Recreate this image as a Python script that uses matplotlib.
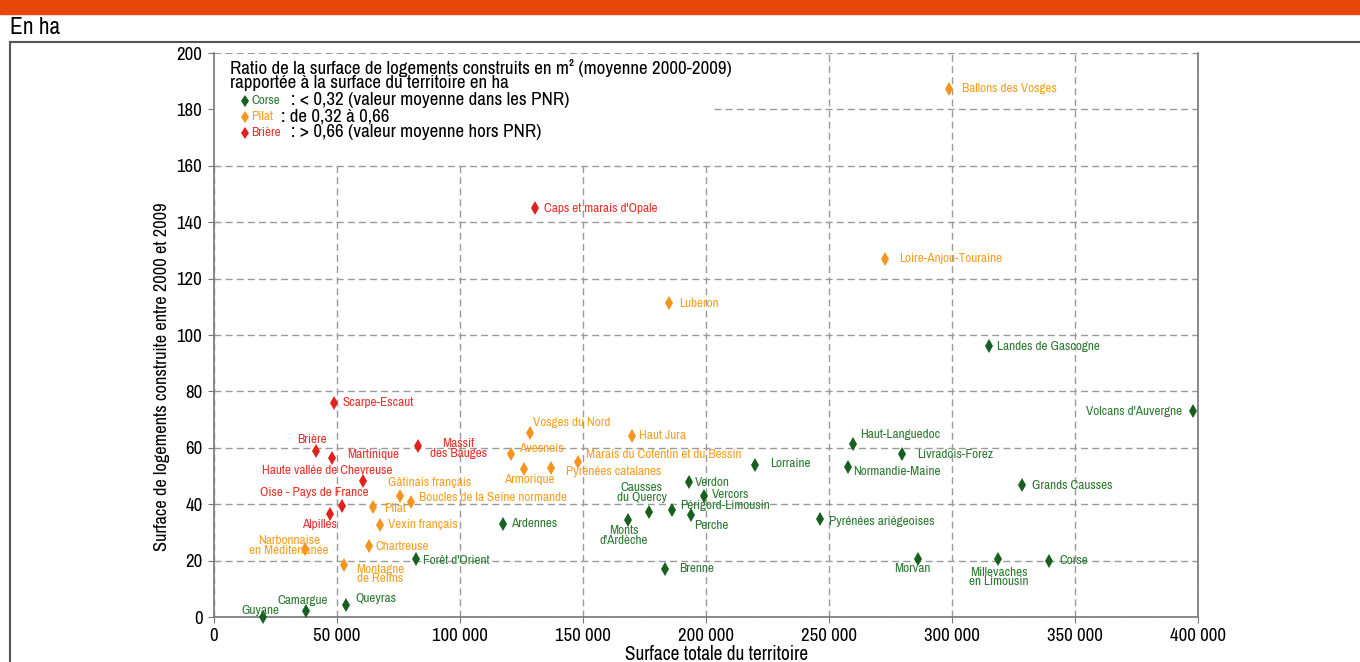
import matplotlib
matplotlib.use('Agg')
import matplotlib.pyplot as plt
from matplotlib import font_manager
from matplotlib.font_manager import FontProperties
from matplotlib.textpath import TextPath
from matplotlib.patches import Rectangle
from matplotlib.lines import Line2D
from matplotlib.ticker import FuncFormatter

# pick a narrow font if one is around, else the default
_fonts = font_manager.fontManager.ttflist
_narrow = [f for f in _fonts if 'Narrow' in f.name or 'Condensed' in f.name]
_stretched = [f for f in _fonts if str(f.stretch) in ('condensed', 'semi-condensed', '75', '87.5')]
if _narrow:
    FONT, STRETCH = _narrow[0].name, 'normal'
elif _stretched:
    FONT, STRETCH = _stretched[0].name, 'condensed'
else:
    FONT, STRETCH = 'DejaVu Sans', 'normal'
plt.rcParams['font.family'] = [FONT, 'DejaVu Sans']
plt.rcParams['font.stretch'] = STRETCH


def fit_size(sample, target_px, k=0.93):
    # font size (pt) so that sample is about target_px wide at 100 dpi
    # (k < 1 : the narrow font is taller than the reference one)
    fp = FontProperties(family=FONT, stretch=STRETCH)
    w = TextPath((0, 0), sample, size=10, prop=fp).get_extents().width
    return k * 10 * target_px / (w * 100 / 72)


# ----------------------------------------------------------------------------#
# data : surface totale (ha) / surface de logements construite 2000-2009 (ha)
red_names = ["Caps et marais d'Opale", "Scarpe-Escaut", "Brière", "Martinique",
             "Massif\ndes Bauges", "Haute vallée de Chevreuse",
             "Oise - Pays de France", "Alpilles"]
red_x = [130600, 49000, 41500, 48000, 83200, 60600, 52200, 47200]
red_y = [145.0, 75.9, 58.8, 56.5, 60.5, 48.1, 39.4, 36.6]

orange_names = ["Ballons des Vosges", "Loire-Anjou-Touraine", "Luberon",
                "Vosges du Nord", "Haut Jura", "Avesnois",
                "Marais du Cotentin et du Bessin", "Armorique",
                "Pyrénées catalanes", "Gâtinais français",
                "Boucles de la Seine normande", "Pilat", "Vexin français",
                "Narbonnaise\nen Méditerranée", "Chartreuse",
                "Montagne\nde Reims"]
orange_x = [298800, 272800, 185200, 128700, 170200, 120900, 148200, 126300,
            137200, 75800, 80100, 64900, 67500, 37300, 63300, 53000]
orange_y = [187.2, 127.1, 111.2, 65.4, 64.2, 57.9, 55.1, 52.6, 52.7, 43.0,
            40.7, 39.1, 32.7, 24.2, 25.1, 18.5]

green_names = ["Landes de Gascogne", "Volcans d'Auvergne", "Haut-Languedoc",
               "Livradois-Forez", "Normandie-Maine", "Lorraine",
               "Grands Causses", "Verdon", "Vercors", "Causses\ndu Quercy",
               "Périgord-Limousin", "Perche", "Monts\nd'Ardèche", "Ardennes",
               "Pyrénées ariégeoises", "Morvan", "Millevaches\nen Limousin",
               "Corse", "Brenne", "Forêt d'Orient", "Queyras", "Camargue",
               "Guyane"]
green_x = [315200, 398100, 259800, 279700, 257800, 219900, 328400, 193200,
           199300, 176900, 186400, 194100, 168300, 117600, 246500, 286400,
           318700, 339500, 183600, 82200, 53800, 37500, 20100]
green_y = [96.1, 72.9, 61.3, 57.8, 53.1, 53.8, 46.7, 47.8, 42.8, 37.3, 38.0,
           36.3, 34.5, 33.0, 34.9, 20.6, 20.6, 20.0, 16.9, 20.5, 4.1, 2.0, 0.0]

x_ticks = [0, 50000, 100000, 150000, 200000, 250000, 300000, 350000, 400000]
y_ticks = [0, 20, 40, 60, 80, 100, 120, 140, 160, 180, 200]

# label placement : (dx px, dy px, ha)
LABEL_POS = {
    "Caps et marais d'Opale": (9, 0, 'left'),
    "Scarpe-Escaut": (8, 0, 'left'),
    "Brière": (-4, 12, 'center'),
    "Martinique": (15, 3, 'left'),
    "Massif\ndes Bauges": (40, -2, 'center'),
    "Haute vallée de Chevreuse": (-35, 11, 'center'),
    "Oise - Pays de France": (-28, 13, 'center'),
    "Alpilles": (-10, -11, 'center'),
    "Ballons des Vosges": (13, 1, 'left'),
    "Loire-Anjou-Touraine": (14, 0, 'left'),
    "Luberon": (10, 0, 'left'),
    "Vosges du Nord": (3, 10, 'left'),
    "Haut Jura": (7, 0, 'left'),
    "Avesnois": (8, 5, 'left'),
    "Marais du Cotentin et du Bessin": (8, 7, 'left'),
    "Armorique": (5, -11, 'center'),
    "Pyrénées catalanes": (15, -3, 'left'),
    "Gâtinais français": (30, 13, 'center'),
    "Boucles de la Seine normande": (8, 5, 'left'),
    "Pilat": (11, -2, 'left'),
    "Vexin français": (8, 0, 'left'),
    "Narbonnaise\nen Méditerranée": (-16, 3, 'center'),
    "Chartreuse": (6, 0, 'left'),
    "Montagne\nde Reims": (36, -9, 'center'),
    "Landes de Gascogne": (8, -1, 'left'),
    "Volcans d'Auvergne": (-11, 0, 'right'),
    "Haut-Languedoc": (7, 10, 'left'),
    "Livradois-Forez": (15, 0, 'left'),
    "Normandie-Maine": (5, -4, 'left'),
    "Lorraine": (15, 2, 'left'),
    "Grands Causses": (10, 0, 'left'),
    "Verdon": (6, 0, 'left'),
    "Vercors": (8, 2, 'left'),
    "Causses\ndu Quercy": (-7, 19, 'center'),
    "Périgord-Limousin": (8, 4, 'left'),
    "Perche": (3, -11, 'left'),
    "Monts\nd'Ardèche": (-4, -16, 'center'),
    "Ardennes": (8, 0, 'left'),
    "Pyrénées ariégeoises": (9, -3, 'left'),
    "Morvan": (-6, -10, 'center'),
    "Millevaches\nen Limousin": (1, -18, 'center'),
    "Corse": (10, 0, 'left'),
    "Brenne": (14, 1, 'left'),
    "Forêt d'Orient": (7, -1, 'left'),
    "Queyras": (9, 7, 'left'),
    "Camargue": (-3, 11, 'center'),
    "Guyane": (-3, 7, 'center'),
}

RED, RED_TXT = '#e3211c', '#e8312b'
ORANGE, ORANGE_TXT = '#f7941d', '#f5a023'
GREEN, GREEN_TXT = '#17601f', '#2e7a33'
GRID = '#9a9a9a'

# sizes fitted to the widths seen on the reference
FS_LEGEND = fit_size('Ratio de la surface de logements construits en m² (moyenne 2000-2009)', 540)
FS_LABEL = fit_size('Scarpe-Escaut', 76)
FS_TICK = fit_size('100 000', 58)
FS_XLAB = fit_size('Surface totale du territoire', 196)
FS_YLAB = fit_size('Surface de logements construite entre 2000 et 2009', 373)
FS_UNIT = fit_size('En ha', 52)

# ----------------------------------------------------------------------------#
fig = plt.figure(figsize=(13.6, 6.62), dpi=100)
W, H = 1360, 662
ax = fig.add_axes([213.5 / W, 1 - 617 / H, 984.5 / W, 564 / H])

# top banner, frame and unit
fig.patches.append(Rectangle((0, 1 - 14 / H), 1, 14 / H, transform=fig.transFigure,
                             color='#e8470b', zorder=0))
fig.lines.append(Line2D([10 / W, 1], [1 - 42 / H, 1 - 42 / H], transform=fig.transFigure,
                        color='#555555', lw=1.5))
fig.lines.append(Line2D([10 / W, 10 / W], [1 - 42 / H, 0], transform=fig.transFigure,
                        color='#555555', lw=1.5))
fig.text(10 / W, 1 - 28 / H, 'En ha', fontsize=FS_UNIT, va='center', ha='left')

ax.set_xlim(0, 400000)
ax.set_ylim(0, 200)
ax.set_xticks(x_ticks)
ax.set_yticks(y_ticks)
ax.xaxis.set_major_formatter(FuncFormatter(lambda v, p: f"{int(v):,}".replace(',', ' ')))
ax.tick_params(labelsize=FS_TICK, direction='out', length=4, color='#777777', pad=4)

ax.set_axisbelow(True)
ax.grid(True, color=GRID, linestyle=(0, (5, 3)), linewidth=1.0)
for s in ['left', 'bottom', 'right']:
    ax.spines[s].set_color('#777777')
    ax.spines[s].set_linewidth(1.2)
ax.spines['top'].set_visible(False)

ax.set_xlabel('Surface totale du territoire', fontsize=FS_XLAB)
ax.set_ylabel('Surface de logements construite entre 2000 et 2009', fontsize=FS_YLAB)
ax.yaxis.set_label_coords(-0.0445, 0.426)
ax.xaxis.set_label_coords(0.511, -0.049)

# white box behind the legend text
ax.add_patch(Rectangle((0, 161), 202100, 38.5, facecolor='white', edgecolor='none',
                       zorder=1.5))

for names, xs, ys, mc, tc in [(red_names, red_x, red_y, RED, RED_TXT),
                              (orange_names, orange_x, orange_y, ORANGE, ORANGE_TXT),
                              (green_names, green_x, green_y, GREEN, GREEN_TXT)]:
    ax.plot(xs, ys, linestyle='none', marker='d', markersize=7.5, color=mc,
            markeredgewidth=0, zorder=3, clip_on=False)
    for n, x, y in zip(names, xs, ys):
        dx, dy, ha = LABEL_POS[n]
        ax.annotate(n, (x, y), xytext=(dx, dy), textcoords='offset pixels',
                    ha=ha, va='center', fontsize=FS_LABEL, color=tc,
                    linespacing=0.85, zorder=4)


# legend block
def fx(px):
    return (px - 213.5) / 984.5


def fy(py):
    return (617 - py) / 564


ax.text(fx(230), fy(68), 'Ratio de la surface de logements construits en m² (moyenne 2000-2009)',
        transform=ax.transAxes, fontsize=FS_LEGEND, va='center', zorder=4)
ax.text(fx(230), fy(83), 'rapportée à la surface du territoire en ha',
        transform=ax.transAxes, fontsize=FS_LEGEND, va='center', zorder=4)
legend_rows = [('Corse', GREEN, GREEN_TXT, ': < 0,32 (valeur moyenne dans les PNR)', 100, 291),
               ('Pilat', ORANGE, ORANGE_TXT, ': de 0,32 à 0,66', 116, 281),
               ('Brière', RED, RED_TXT, ': > 0,66 (valeur moyenne hors PNR)', 132, 291)]
for name, mc, tc, txt, py, px_colon in legend_rows:
    ax.plot([fx(244.5)], [fy(py + 1)], transform=ax.transAxes, marker='d',
            markersize=6.5, color=mc, markeredgewidth=0, zorder=4, clip_on=False)
    ax.text(fx(251), fy(py), name, transform=ax.transAxes, fontsize=FS_LABEL,
            color=tc, va='center', zorder=4)
    ax.text(fx(px_colon), fy(py), txt, transform=ax.transAxes, fontsize=FS_LEGEND,
            va='center', zorder=4)

fig.savefig('out.png', dpi=100)
